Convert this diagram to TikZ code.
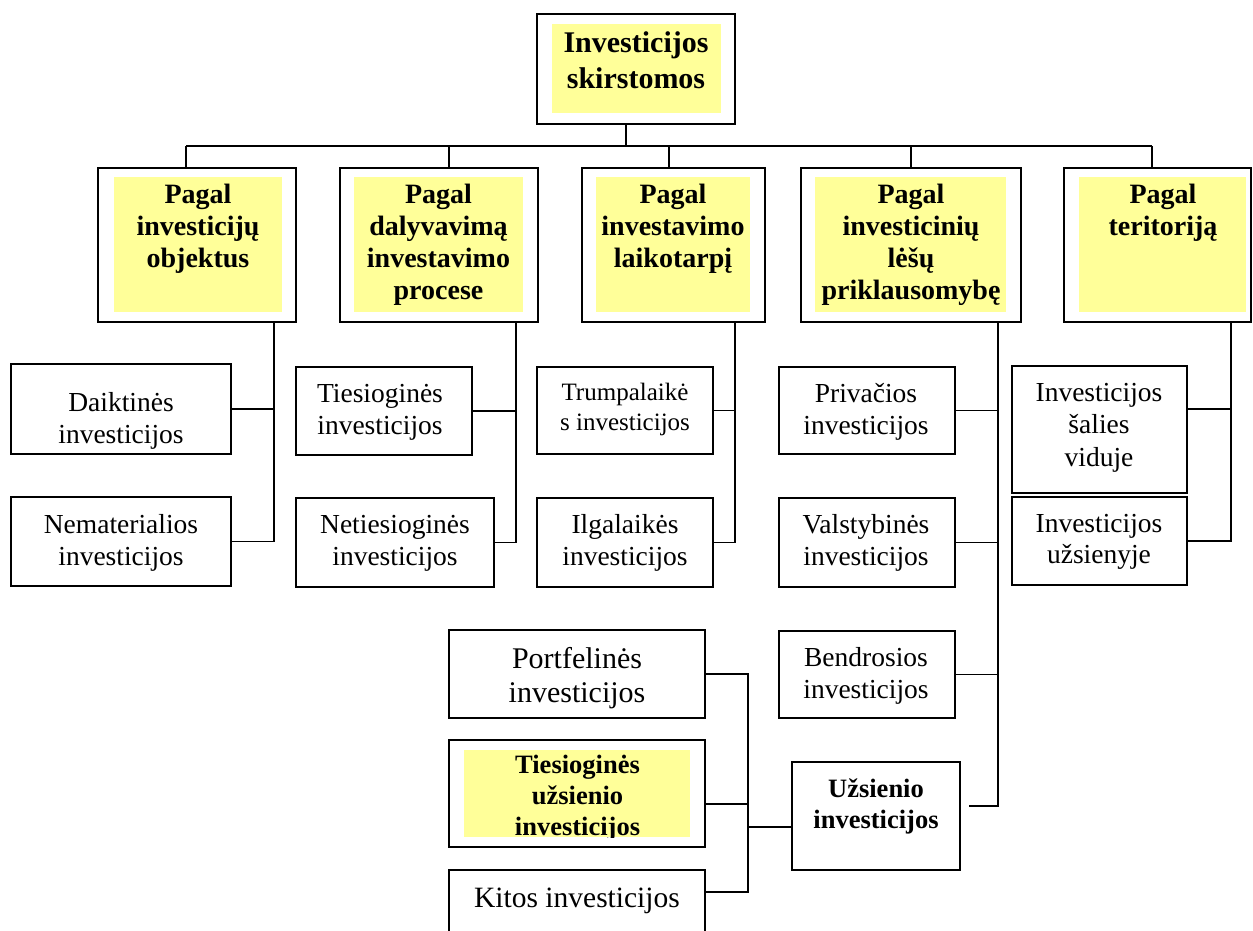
\documentclass[tikz,border=0pt]{standalone}
\usepackage{fontspec}
\setmainfont{Liberation Serif}
\usepackage{tikz}
\usetikzlibrary{calc}
\usepackage{xcolor}
\definecolor{hdryellow}{HTML}{FFFF99}

\begin{document}
\begin{tikzpicture}[x=1pt, y=-1pt,
  catbox/.style={draw, line width=1.7pt, inner sep=0pt},
  conn/.style={line width=1.4pt},
  hdrtxt/.style={anchor=base, inner sep=0pt, align=flush center, text width=240pt,
    font=\bfseries\fontsize{28}{32}\selectfont},
  txt/.style={anchor=base, inner sep=0pt, align=flush center, text width=240pt,
    font=\fontsize{27.5}{32.5}\selectfont}]

  \useasboundingbox (0,0) rectangle (1253,931);

  % Root box
  \node[catbox, minimum width=198pt, minimum height=110pt] (root) at (636,69) {};
  \fill[hdryellow] (552,24) rectangle (721,113);
  \node[hdrtxt, font=\bfseries\fontsize{30}{36}\selectfont] (root-t) at (636,53) {Investicijos\\skirstomos};

  % Category boxes
  \node[catbox, minimum width=198pt, minimum height=154pt] (objekt) at (197,245) {};
  \fill[hdryellow] (114,177) rectangle (282,312);
  \node[hdrtxt] (objekt-t) at (198,204) {Pagal\\investicijų\\objektus};

  \node[catbox, minimum width=198pt, minimum height=154pt] (proces) at (439,245) {};
  \fill[hdryellow] (354,177) rectangle (523,312);
  \node[hdrtxt] (proces-t) at (438.5,204) {Pagal\\dalyvavimą\\investavimo\\procese};

  \node[catbox, minimum width=183pt, minimum height=154pt] (laikot) at (673.5,245) {};
  \fill[hdryellow] (596,177) rectangle (750,312);
  \node[hdrtxt] (laikot-t) at (673,204) {Pagal\\investavimo\\laikotarpį};

  \node[catbox, minimum width=220pt, minimum height=154pt] (lesu) at (911,245) {};
  \fill[hdryellow] (815,177) rectangle (1006,312);
  \node[hdrtxt] (lesu-t) at (911,204) {Pagal\\investicinių\\lėšų\\priklausomybę};

  \node[catbox, minimum width=187pt, minimum height=154pt] (terit) at (1157.5,245) {};
  \fill[hdryellow] (1079,177) rectangle (1246,312);
  \node[hdrtxt] (terit-t) at (1163,204) {Pagal\\teritoriją};

  % Bus from root to categories
  \coordinate (bus) at (626,146);
  \draw[conn] (root.south -| bus) -- (bus);
  \foreach \n/\x in {objekt/186, proces/449, laikot/669, lesu/911, terit/1152} {
    \coordinate (b-\n) at (\x,146);
    \draw[conn] (b-\n) -- (\n.north -| b-\n);
  }
  \draw[conn] (b-objekt) -- (b-terit);

  % Pagal objektus
  \node[catbox, minimum width=220pt, minimum height=90pt] (daikt) at (121,409) {};
  \node[txt] (daikt-t) at (121,411) {Daiktinės\\investicijos};
  \node[catbox, minimum width=220pt, minimum height=89pt] (nemat) at (121,541.5) {};
  \node[txt] (nemat-t) at (121,533) {Nematerialios\\investicijos};
  \coordinate (s-objekt) at (274,322);
  \draw[conn] (objekt.south -| s-objekt) -- (s-objekt |- nemat.east) -- (nemat.east);
  \draw[conn] (daikt.east) -- (daikt.east -| s-objekt);

  % Pagal dalyvavima
  \node[catbox, minimum width=176pt, minimum height=88pt] (tiesi) at (384,411) {};
  \node[txt] (tiesi-t) at (380,402) {Tiesioginės\\investicijos};
  \node[catbox, minimum width=198pt, minimum height=89pt] (netie) at (395,542.5) {};
  \node[txt] (netie-t) at (395,533) {Netiesioginės\\investicijos};
  \coordinate (s-proces) at (516,322);
  \draw[conn] (proces.south -| s-proces) -- (s-proces |- netie.east) -- (netie.east);
  \draw[conn] (tiesi.east) -- (tiesi.east -| s-proces);

  % Pagal laikotarpi
  \node[catbox, minimum width=176pt, minimum height=87pt] (trump) at (625,410.5) {};
  \node[txt, font=\fontsize{25}{30}\selectfont] (trump-t) at (625,400) {Trumpalaikė\\s investicijos};
  \node[catbox, minimum width=176pt, minimum height=89pt] (ilgal) at (625,542.5) {};
  \node[txt] (ilgal-t) at (625,533) {Ilgalaikės\\investicijos};
  \coordinate (s-laikot) at (735,322);
  \draw[conn] (laikot.south -| s-laikot) -- (s-laikot |- ilgal.east) -- (ilgal.east);
  \draw[conn] (trump.east) -- (trump.east -| s-laikot);

  % Pagal lesu priklausomybe
  \node[catbox, minimum width=176pt, minimum height=87pt] (priv) at (867,410.5) {};
  \node[txt] (priv-t) at (866,402) {Privačios\\investicijos};
  \node[catbox, minimum width=176pt, minimum height=89pt] (valst) at (867,542.5) {};
  \node[txt] (valst-t) at (866,533) {Valstybinės\\investicijos};
  \node[catbox, minimum width=176pt, minimum height=87pt] (bendr) at (867,674.5) {};
  \node[txt] (bendr-t) at (866,666) {Bendrosios\\investicijos};
  \node[catbox, minimum width=168pt, minimum height=108pt] (uzs) at (876,816) {};
  \node[txt, font=\bfseries\fontsize{26.5}{31}\selectfont] (uzs-t) at (876,797) {Užsienio\\investicijos};
  \coordinate (j-lesu) at (998,806);
  \draw[conn, shorten >=8pt] (lesu.south -| j-lesu) -- (j-lesu) -- (uzs.east |- j-lesu);
  \foreach \n in {priv, valst, bendr}
    \draw[conn] (\n.east) -- (\n.east -| j-lesu);

  % Pagal teritorija
  \node[catbox, minimum width=175pt, minimum height=127pt] (vid) at (1099.5,429.5) {};
  \node[txt] (vid-t) at (1099,401) {Investicijos\\šalies\\viduje};
  \node[catbox, minimum width=175pt, minimum height=88pt] (usz) at (1099.5,541) {};
  \node[txt, font=\fontsize{27.5}{31}\selectfont] (usz-t) at (1099,532) {Investicijos\\užsienyje};
  \coordinate (j-vid) at (1231,409);
  \draw[conn] (terit.south -| j-vid) -- (j-vid |- usz.east) -- (usz.east);
  \draw[conn] (vid.east |- j-vid) -- (j-vid);

  % Uzsienio investicijos
  \node[catbox, minimum width=256pt, minimum height=88pt] (portf) at (577,674) {};
  \node[txt, font=\fontsize{30}{34}\selectfont] (portf-t) at (577,668) {Portfelinės\\investicijos};
  \node[catbox, minimum width=256pt, minimum height=107pt] (tuzs) at (577,793.5) {};
  \fill[hdryellow] (464,750) rectangle (690,837);
  \begin{scope}
    \clip (464,750) rectangle (690,837);
    \node[txt, font=\bfseries\fontsize{26.5}{31}\selectfont] (tuzs-t) at (577.5,773) {Tiesioginės\\užsienio\\investicijos};
  \end{scope}
  \node[catbox, minimum width=256pt, minimum height=64pt] (kitos) at (577,902) {};
  \node[txt, font=\fontsize{29.5}{34}\selectfont] (kitos-t) at (577,907) {Kitos investicijos};
  \coordinate (j-kitos) at (748,892);
  \coordinate (j-tuzs) at (748,804);
  \coordinate (j-uzs) at (748,827);
  \draw[conn] (portf.east) -- (portf.east -| j-kitos) -- (j-kitos) -- (kitos.east |- j-kitos);
  \draw[conn] (tuzs.east |- j-tuzs) -- (j-tuzs);
  \draw[conn] (j-uzs) -- (uzs.west |- j-uzs);
\end{tikzpicture}
\end{document}
